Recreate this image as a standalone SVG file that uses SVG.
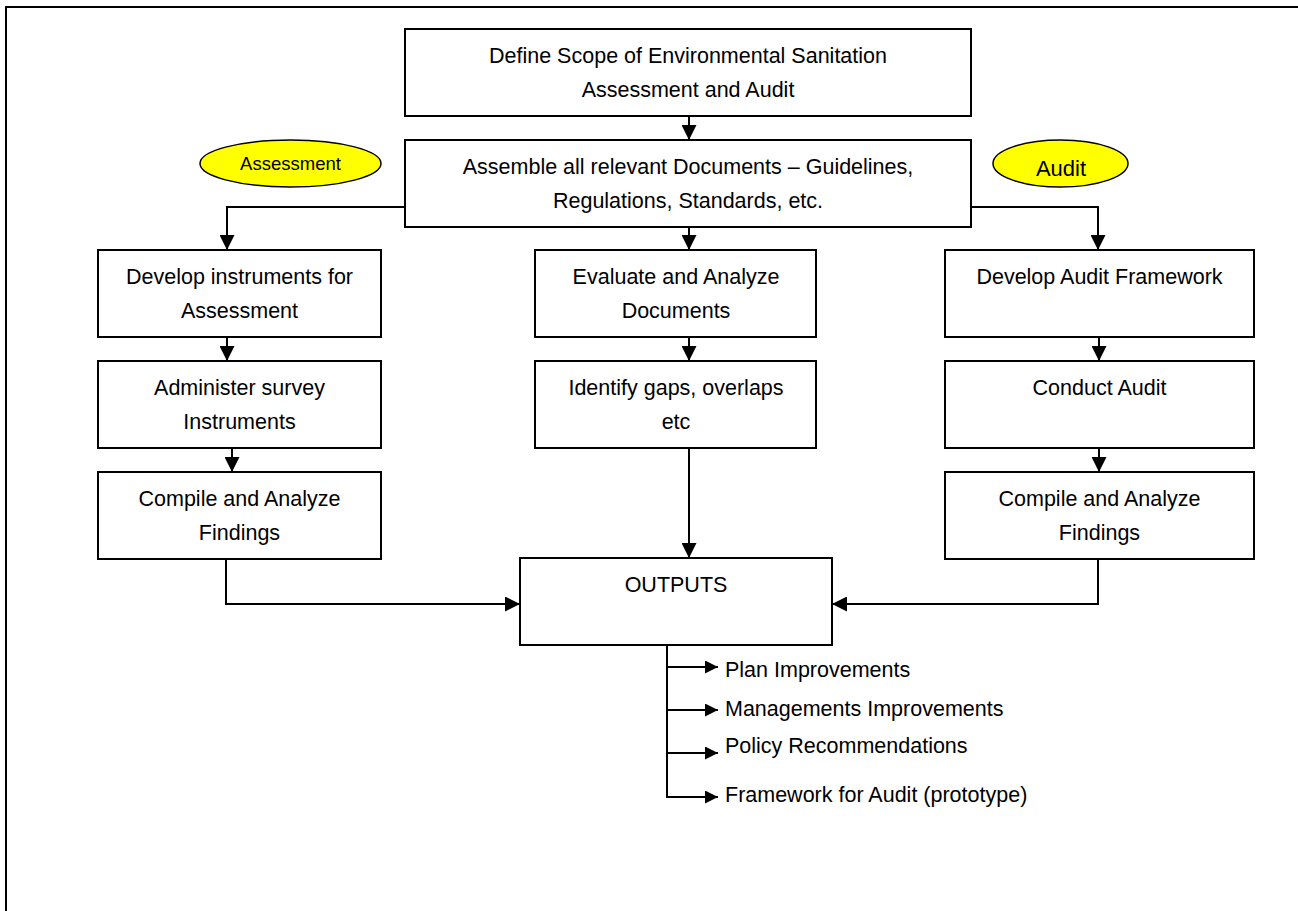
<svg xmlns="http://www.w3.org/2000/svg" width="1298" height="911" viewBox="0 0 1298 911">
<style>
.box{fill:#fff;stroke:#000;stroke-width:2}
.t{font-family:"Liberation Sans",Arial,sans-serif;font-size:21.5px;fill:#000;text-anchor:middle}
.ts{font-family:"Liberation Sans",Arial,sans-serif;font-size:21.5px;fill:#000}
.ell{fill:#ffff00;stroke:#000;stroke-width:1.5}
.c{fill:none;stroke:#000;stroke-width:2}
.ca{fill:none;stroke:#000;stroke-width:2;marker-end:url(#ah)}
.cs{fill:none;stroke:#000;stroke-width:2;marker-end:url(#as)}
</style>
<defs>
<marker id="ah" markerUnits="userSpaceOnUse" markerWidth="15" markerHeight="15" refX="15" refY="7.5" orient="auto" viewBox="0 0 15 15"><path d="M0,0 L15,7.5 L0,15 z" fill="#000"/></marker>
<marker id="as" markerUnits="userSpaceOnUse" markerWidth="13" markerHeight="13" refX="13" refY="6.5" orient="auto" viewBox="0 0 13 13"><path d="M0,0 L13,6.5 L0,13 z" fill="#000"/></marker>
</defs>
<rect width="1298" height="911" fill="#fff"/>
<path d="M6,911 V7 H1298" fill="none" stroke="#000" stroke-width="2"/>

<g id="connectors">
<path class="ca" d="M689,116 V140"/>
<path class="ca" d="M405,207 H227 V250"/>
<path class="ca" d="M971,207 H1098 V250"/>
<path class="ca" d="M689,227 V250"/>
<path class="ca" d="M227,337 V361"/>
<path class="ca" d="M232,448 V472"/>
<path class="ca" d="M226,559 V604 H520"/>
<path class="ca" d="M689,337 V361"/>
<path class="ca" d="M689,448 V558"/>
<path class="ca" d="M1099,337 V361"/>
<path class="ca" d="M1099,448 V472"/>
<path class="ca" d="M1098,559 V604 H832"/>
<path class="c" d="M667,645 V797"/>
<path class="cs" d="M666,667 H718"/>
<path class="cs" d="M666,710 H718"/>
<path class="cs" d="M666,753 H718"/>
<path class="cs" d="M666,797 H718"/>
</g>

<g id="scope">
<rect class="box" x="405" y="29" width="566" height="87"/>
<text class="t" x="688" y="63">Define Scope of Environmental Sanitation</text>
<text class="t" x="688" y="97">Assessment and Audit</text>
</g>
<g id="assemble">
<rect class="box" x="405" y="140" width="566" height="87"/>
<text class="t" x="688" y="174">Assemble all relevant Documents – Guidelines,</text>
<text class="t" x="688" y="208">Regulations, Standards, etc.</text>
</g>
<g id="assessment-label">
<ellipse class="ell" cx="290.5" cy="163.5" rx="90.5" ry="23.5"/>
<text class="t" x="290.5" y="170" style="font-size:18.5px">Assessment</text>
</g>
<g id="audit-label">
<ellipse class="ell" cx="1060.5" cy="163.5" rx="67.5" ry="23.5"/>
<text class="t" x="1061" y="175.5" style="font-size:22px">Audit</text>
</g>

<g id="develop-instruments">
<rect class="box" x="98" y="250" width="283" height="87"/>
<text class="t" x="239.5" y="284">Develop instruments for</text>
<text class="t" x="239.5" y="318">Assessment</text>
</g>
<g id="administer">
<rect class="box" x="98" y="361" width="283" height="87"/>
<text class="t" x="239.5" y="395">Administer survey</text>
<text class="t" x="239.5" y="429">Instruments</text>
</g>
<g id="compile-left">
<rect class="box" x="98" y="472" width="283" height="87"/>
<text class="t" x="239.5" y="506">Compile and Analyze</text>
<text class="t" x="239.5" y="540">Findings</text>
</g>

<g id="evaluate">
<rect class="box" x="535" y="250" width="281" height="87"/>
<text class="t" x="676" y="284">Evaluate and Analyze</text>
<text class="t" x="676" y="318">Documents</text>
</g>
<g id="identify">
<rect class="box" x="535" y="361" width="281" height="87"/>
<text class="t" x="676" y="395">Identify gaps, overlaps</text>
<text class="t" x="676" y="429">etc</text>
</g>

<g id="audit-framework">
<rect class="box" x="945" y="250" width="309" height="87"/>
<text class="t" x="1099.5" y="284">Develop Audit Framework</text>
</g>
<g id="conduct-audit">
<rect class="box" x="945" y="361" width="309" height="87"/>
<text class="t" x="1099.5" y="395">Conduct Audit</text>
</g>
<g id="compile-right">
<rect class="box" x="945" y="472" width="309" height="87"/>
<text class="t" x="1099.5" y="506">Compile and Analyze</text>
<text class="t" x="1099.5" y="540">Findings</text>
</g>

<g id="outputs">
<rect class="box" x="520" y="558" width="312" height="87"/>
<text class="t" x="676" y="592">OUTPUTS</text>
</g>

<g id="output-list">
<text class="ts" x="725" y="677">Plan Improvements</text>
<text class="ts" x="725" y="716">Managements Improvements</text>
<text class="ts" x="725" y="753">Policy Recommendations</text>
<text class="ts" x="725" y="802">Framework for Audit (prototype)</text>
</g>
</svg>
